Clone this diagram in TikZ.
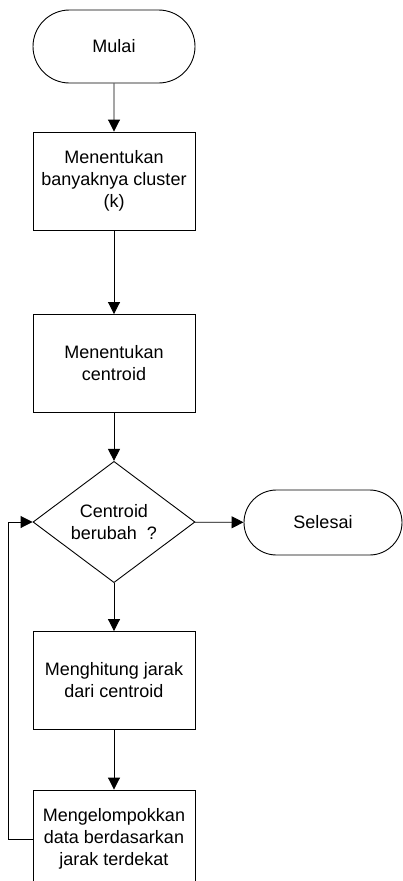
\documentclass[tikz,border=0pt]{standalone}
\usepackage{fontspec}
\setmainfont{Liberation Sans}
\usetikzlibrary{shapes.geometric,shapes.misc,arrows.meta}

\begin{document}
\begin{tikzpicture}[
                x=1pt, y=-1pt,
                font=\fontsize{18}{22}\selectfont,
                box/.style={
                    draw,
                    rectangle,
                    line width=0.9pt,
                    minimum width=162pt,
                    minimum height=98pt,
                    inner sep=0pt,
                    align=center
                },
                terminal/.style={
                    box,
                    rounded rectangle,
                    minimum height=73pt
                },
                decision/.style={
                    box,
                    diamond
                },
                arrow/.style={
                    -{Triangle[length=12pt,width=12pt]},
                    line width=0.9pt
                }
            ]
                \useasboundingbox (0,0) rectangle (403,881);

                \node[terminal] (mulai) at (114,46.5) {Mulai};
                \node[box] (step1) at (114,181) {Menentukan\\banyaknya cluster\\(k)};
                \node[box] (step2) at (114,363.5) {Menentukan\\centroid};
                \node[decision] (cek) at (114,522) {Centroid\\berubah\ \ ?};
                \node[terminal, minimum width=158pt, minimum height=65pt] (selesai) at (323,522.5) {Selesai};
                \node[box] (step3) at (114,680.5) {Menghitung jarak\\dari centroid};
                \node[box] (step4) at (114,839) {Mengelompokkan\\data berdasarkan\\jarak terdekat};

                \draw[arrow] (mulai) -- (step1);
                \draw[arrow] (step1) -- (step2);
                \draw[arrow] (step2) -- (cek);
                \draw[arrow] (cek) -- (selesai);
                \draw[arrow] (cek) -- (step3);
                \draw[arrow] (step3) -- (step4);
                \draw[arrow] (step4.west) -- ++(-24,0) |- (cek.west);
        \end{tikzpicture}
\end{document}
